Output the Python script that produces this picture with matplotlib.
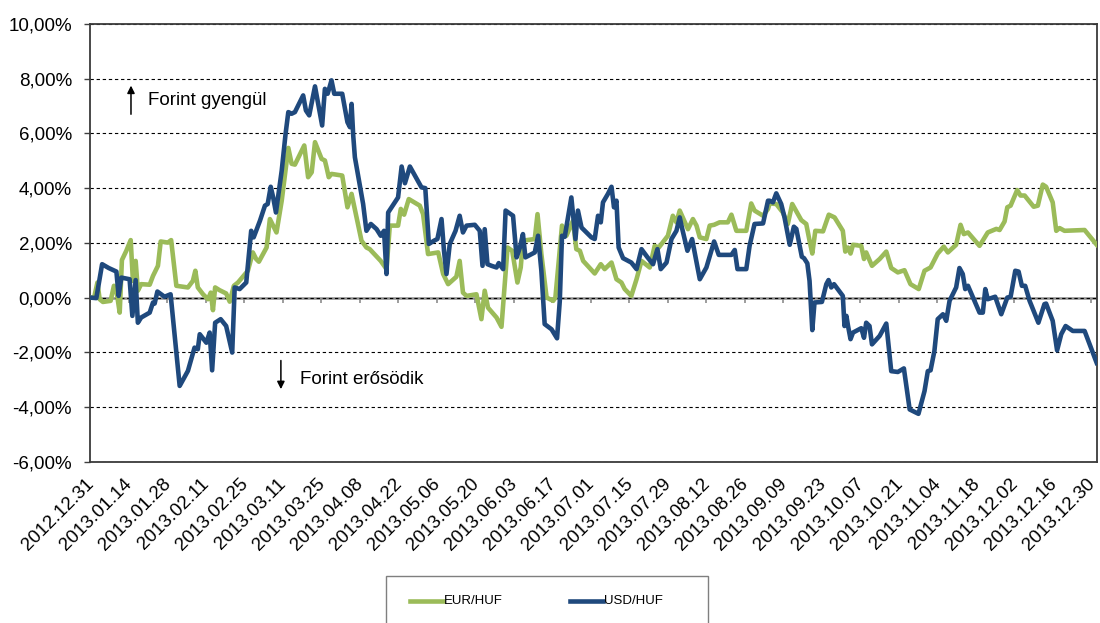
import matplotlib
matplotlib.use("Agg")
import matplotlib.pyplot as plt
import matplotlib.transforms as mtransforms
from matplotlib.lines import Line2D
from matplotlib.patches import Rectangle
import numpy as np
import pandas as pd

plt.rcParams["font.family"] = ["Liberation Sans", "DejaVu Sans"]

START = pd.Timestamp("2012-12-31")

# change vs. 2012.12.31 in %, x = days since 2012.12.31
eur_days = [0, 1.5, 2.7, 3.5, 4.7, 7.5, 8.7, 9.6, 10.8, 11.6, 13.2, 14.8, 15.6, 16.6,
            17.4, 18.6, 21.7, 22.9, 24.7, 25.7, 28.3, 29.5, 31.4, 35.6, 37.4, 38.3,
            39.2, 41.1, 42.9, 43.9, 44.7, 45.5, 47.1, 49.5, 50.8, 52.3, 53.8, 57.4,
            59.2, 60.4, 61.4, 64.2, 65.4, 67.8, 69.7, 72.1, 73.3, 74.5, 77.9, 79.3,
            80.6, 81.8, 84.2, 85.4, 86.0, 86.8, 87.8, 91.7, 93.6, 95.1, 98.7, 100.5,
            101.7, 105.7, 107.8, 109.0, 112.0, 113.0, 114.2, 115.9, 119.9, 121.1,
            122.9, 126.6, 128.4, 130.2, 133.2, 134.4, 135.6, 136.9, 140.5, 142.3,
            143.5, 144.7, 147.8, 149.6, 151.8, 153.5, 155.4, 156.6, 157.4, 161.7,
            162.7, 164.1, 166.0, 168.4, 169.2, 171.6, 173.2, 175.6, 176.8, 178.1,
            179.3, 183.5, 185.7, 187.1, 189.6, 191.4, 193.2, 194.4, 196.8, 198.7,
            200.5, 203.5, 205.3, 206.8, 210.1, 211.9, 213.2, 214.4, 217.4, 219.2,
            220.5, 221.7, 224.1, 225.3, 226.9, 228.9, 231.9, 233.2, 235.0, 238.6,
            240.4, 241.6, 244.7, 246.5, 247.1, 249.5, 251.9, 253.7, 255.3, 258.6,
            260.4, 261.6, 262.6, 263.7, 266.5, 268.6, 270.7, 273.7, 274.6, 275.6,
            276.5, 277.4, 280.4, 281.4, 282.2, 284.3, 287.1, 289.5, 291.3, 293.7,
            296.1, 298.3, 301.3, 303.4, 305.6, 308.2, 310.4, 311.9, 314.9, 316.5,
            317.7, 319.2, 323.4, 326.4, 329.5, 330.7, 332.5, 333.5, 334.7, 337.1,
            338.3, 339.8, 343.1, 344.6, 346.4, 347.6, 350.0, 351.3, 352.5, 354.3,
            361.6, 366.0]
eur_vals = [0.00, 0.00, 0.55, -0.06, -0.16, -0.12, 0.43, 0.25, -0.55, 1.37, 1.71, 2.10,
            0.61, 1.34, 0.25, 0.49, 0.47, 0.79, 1.16, 2.05, 2.01, 2.10, 0.43, 0.37,
            0.61, 0.98, 0.37, 0.12, -0.06, 0.18, -0.46, 0.37, 0.27, 0.15, -0.15, 0.43,
            0.55, 0.98, 1.65, 1.41, 1.31, 1.83, 2.87, 2.38, 3.54, 5.47, 4.89, 4.86,
            5.56, 4.40, 4.58, 5.68, 5.07, 5.01, 4.76, 4.40, 4.52, 4.46, 3.30, 3.79,
            2.08, 1.83, 1.77, 1.34, 1.04, 2.63, 2.63, 3.24, 3.03, 3.60, 3.36, 3.05,
            1.59, 1.65, 0.86, 0.49, 0.76, 1.34, 0.18, 0.06, 0.12, -0.79, 0.25, -0.37,
            -0.73, -1.07, 1.83, 1.71, 0.55, 1.10, 2.08, 2.14, 3.05, 1.59, 0.00, -0.12,
            0.00, 2.63, 2.26, 2.81, 1.77, 1.71, 1.34, 0.88, 1.22, 1.04, 1.28, 0.67,
            0.55, 0.31, 0.06, 0.67, 1.34, 1.10, 1.89, 1.83, 2.26, 2.99, 2.75, 3.18,
            2.50, 2.87, 2.63, 2.20, 2.14, 2.63, 2.66, 2.75, 2.75, 3.03, 2.44, 2.44,
            3.44, 3.18, 2.99, 3.24, 3.44, 3.42, 3.11, 2.69, 3.42, 2.83, 2.69, 2.08,
            1.61, 2.44, 2.42, 3.03, 2.93, 2.44, 1.68, 1.83, 1.61, 1.93, 1.89, 1.41,
            1.65, 1.16, 1.41, 1.68, 1.08, 0.92, 1.00, 0.49, 0.31, 0.98, 1.10, 1.61,
            1.86, 1.65, 1.93, 2.66, 2.32, 2.38, 1.89, 2.38, 2.51, 2.47, 2.78, 3.30,
            3.36, 3.93, 3.73, 3.73, 3.32, 3.36, 4.13, 4.05, 3.48, 2.44, 2.54, 2.44,
            2.47, 1.93]

usd_days = [0, 2.3, 4.4, 6.8, 9.6, 10.4, 11.4, 14.4, 15.4, 16.6, 17.4, 18.6, 21.7,
            22.9, 23.5, 24.5, 27.1, 29.3, 32.6, 35.6, 38.0, 39.2, 39.9, 42.3, 43.5,
            44.4, 45.5, 47.5, 49.5, 51.7, 52.6, 54.4, 56.8, 58.6, 59.5, 61.8, 63.6,
            64.6, 65.7, 66.6, 67.6, 69.7, 71.1, 72.1, 73.3, 74.5, 77.5, 78.5, 79.7,
            81.8, 83.2, 84.4, 85.4, 86.4, 87.8, 88.8, 91.7, 93.6, 94.5, 95.1, 95.7,
            96.3, 99.3, 100.5, 102.1, 104.2, 105.7, 106.9, 107.8, 108.4, 112.0, 113.3,
            114.5, 116.3, 120.5, 121.9, 123.2, 125.1, 126.3, 127.8, 128.7, 129.6,
            130.8, 132.9, 134.4, 135.6, 136.9, 139.9, 141.7, 142.7, 143.5, 144.5,
            146.0, 147.8, 148.6, 150.2, 151.1, 153.8, 155.1, 156.3, 157.4, 158.3,
            161.7, 162.9, 164.1, 165.3, 167.8, 169.8, 170.8, 171.6, 172.6, 175.0,
            176.5, 177.4, 178.7, 182.3, 183.5, 184.7, 185.7, 186.5, 188.3, 189.6,
            190.5, 191.4, 192.2, 193.8, 196.8, 198.7, 200.5, 202.7, 204.7, 206.3,
            207.5, 209.6, 211.4, 213.2, 214.4, 215.2, 217.2, 218.9, 221.7, 224.1,
            226.9, 228.6, 233.2, 234.4, 235.4, 238.6, 239.8, 241.6, 244.7, 246.5,
            247.1, 248.3, 249.5, 251.3, 252.5, 254.4, 255.9, 256.8, 258.8, 259.6,
            260.8, 261.6, 262.6, 263.4, 266.1, 267.7, 268.5, 269.5, 270.5, 273.7,
            274.3, 275.0, 275.6, 276.5, 277.4, 280.4, 281.4, 282.2, 283.4, 284.3,
            287.1, 289.5, 291.3, 293.7, 295.9, 298.0, 301.2, 303.4, 304.6, 305.6,
            307.0, 308.2, 310.1, 311.3, 312.5, 314.9, 316.1, 317.3, 318.2, 319.2,
            323.4, 324.6, 325.5, 326.4, 329.1, 331.3, 333.5, 334.7, 336.4, 337.6,
            338.8, 340.0, 341.6, 344.8, 347.0, 347.6, 350.0, 351.6, 353.1, 354.7,
            357.3, 361.6, 366.0]
usd_vals = [0.00, -0.02, 1.22, 1.08, 0.95, 0.06, 0.73, 0.67, -0.67, 0.64, -0.92, -0.73,
            -0.55, -0.18, -0.22, 0.22, 0.03, 0.12, -3.23, -2.68, -1.83, -1.89, -1.34,
            -1.65, -1.28, -2.66, -0.92, -0.79, -1.04, -2.01, 0.37, 0.31, 0.55, 2.44,
            2.20, 2.81, 3.36, 3.42, 4.05, 3.66, 3.11, 4.64, 5.98, 6.78, 6.72, 6.78,
            7.39, 6.84, 6.66, 7.72, 6.96, 6.29, 7.63, 7.45, 7.94, 7.45, 7.45, 6.41,
            6.23, 7.08, 5.92, 5.13, 3.42, 2.44, 2.69, 2.50, 2.26, 2.44, 0.86, 3.11,
            3.66, 4.79, 4.18, 4.79, 4.03, 4.00, 1.96, 2.08, 2.14, 2.87, 1.71, 0.86,
            1.96, 2.44, 2.99, 2.38, 2.63, 2.66, 2.44, 1.16, 2.50, 1.22, 1.16, 1.10,
            1.26, 1.04, 3.18, 2.99, 1.47, 1.83, 2.32, 1.47, 1.65, 2.26, 0.98, -0.97,
            -1.16, -1.49, -0.12, 2.26, 2.22, 3.66, 2.14, 3.18, 2.56, 2.20, 2.14, 2.99,
            2.75, 3.48, 3.79, 4.05, 3.30, 3.54, 1.83, 1.44, 1.28, 1.04, 1.77, 1.47,
            1.22, 1.77, 1.04, 1.28, 2.14, 2.44, 2.93, 2.56, 1.71, 2.14, 0.67, 1.10,
            2.05, 1.56, 1.56, 1.74, 1.04, 1.04, 1.89, 2.69, 2.71, 3.54, 3.54, 3.48,
            3.81, 3.42, 2.93, 1.93, 2.59, 2.51, 1.49, 1.44, 1.25, 0.61, -1.19, -0.18,
            -0.16, 0.49, 0.64, 0.37, 0.49, 0.06, -1.04, -0.67, -1.04, -1.52, -1.28,
            -1.12, -1.47, -0.92, -1.04, -1.71, -1.40, -0.95, -2.69, -2.72, -2.59,
            -4.09, -4.25, -3.42, -2.69, -2.66, -1.95, -0.79, -0.61, -0.85, -0.12,
            0.37, 1.08, 0.86, 0.31, 0.43, -0.55, -0.55, 0.31, -0.06, 0.03, -0.61,
            0.00, 0.03, 0.98, 0.95, 0.43, 0.43, -0.12, -0.92, -0.24, -0.22, -0.85,
            -1.93, -1.34, -1.04, -1.22, -1.22, -2.39]

series_labels = ["EUR/HUF", "USD/HUF"]
series_colors = ["#9BBB59", "#1F497D"]
tick_dates = pd.date_range("2012-12-31", "2013-12-30", freq="14D")
y_ticks = np.arange(-6, 10.1, 2)
note_up = "Forint gyengül"
note_down = "Forint erősödik"

W, H = 1100, 623
FS = 13.5


def to_dates(days):
    return START + pd.to_timedelta(np.asarray(days, dtype=float), unit="D")


fig = plt.figure(figsize=(W / 100, H / 100), dpi=100)
ax = fig.add_axes([90 / W, 1 - 461.7 / H, 1006.7 / W, 437.7 / H])

# grid + zero line with its own small tick marks
ax.grid(axis="y", color="black", lw=0.8, ls=(0, (3, 2.5)), zorder=1)
ax.axhline(0, color="#8c8c8c", lw=1.8, zorder=1.5)
ax.vlines(tick_dates, -0.2, 0, color="#8c8c8c", lw=1.2, zorder=1.5)

ax.plot(to_dates(eur_days), eur_vals, color=series_colors[0], lw=3.3,
        solid_joinstyle="round", zorder=3)
ax.plot(to_dates(usd_days), usd_vals, color=series_colors[1], lw=3.3,
        solid_joinstyle="round", zorder=4)

ax.set_xlim(START, START + pd.Timedelta(days=366))
ax.set_ylim(-6, 10)
ax.set_yticks(y_ticks)
ax.set_yticklabels([f"{v:.2f}%".replace(".", ",") for v in y_ticks], fontsize=FS)
ax.set_xticks(tick_dates)
ax.set_xticklabels([d.strftime("%Y.%m.%d") for d in tick_dates], fontsize=FS,
                   rotation=45, ha="right", va="top", rotation_mode="anchor")
ax.tick_params(axis="x", length=0, pad=10)
ax.tick_params(axis="y", length=4, width=1, color="#404040", pad=9)
shift = mtransforms.ScaledTranslation(-3.5 / 72, 0, fig.dpi_scale_trans)
for lab in ax.get_xticklabels():
    lab.set_transform(lab.get_transform() + shift)
for sp in ax.spines.values():
    sp.set_color("#3a3a3a")
    sp.set_linewidth(1.3)

# direction notes
t0 = START
ax.annotate("", xy=(t0 + pd.Timedelta(days=14.9), 7.85),
            xytext=(t0 + pd.Timedelta(days=14.9), 6.6),
            arrowprops=dict(arrowstyle="-|>", color="black", lw=1.1, mutation_scale=11))
ax.text(t0 + pd.Timedelta(days=21), 7.2, note_up, fontsize=FS, va="center", ha="left")
ax.annotate("", xy=(t0 + pd.Timedelta(days=69.4), -3.45),
            xytext=(t0 + pd.Timedelta(days=69.4), -2.2),
            arrowprops=dict(arrowstyle="-|>", color="black", lw=1.1, mutation_scale=11))
ax.text(t0 + pd.Timedelta(days=76.3), -2.98, note_down, fontsize=FS, va="center", ha="left")

# legend box (bottom edge runs off the canvas)
fig.add_artist(Rectangle((386 / W, -0.1), 322 / W, 0.1 + (623 - 576) / H,
                         transform=fig.transFigure, fill=False,
                         edgecolor="#7f7f7f", lw=1.0))
leg_y = 1 - 601 / H
for x0, lab, col in zip([410, 570], series_labels, series_colors):
    fig.add_artist(Line2D([x0 / W, (x0 + 33) / W], [leg_y, leg_y],
                          transform=fig.transFigure, color=col, lw=3.3))
    fig.text((x0 + 34) / W, leg_y, lab, fontsize=9.5, va="center", ha="left")

fig.savefig("out.png", dpi=100)
